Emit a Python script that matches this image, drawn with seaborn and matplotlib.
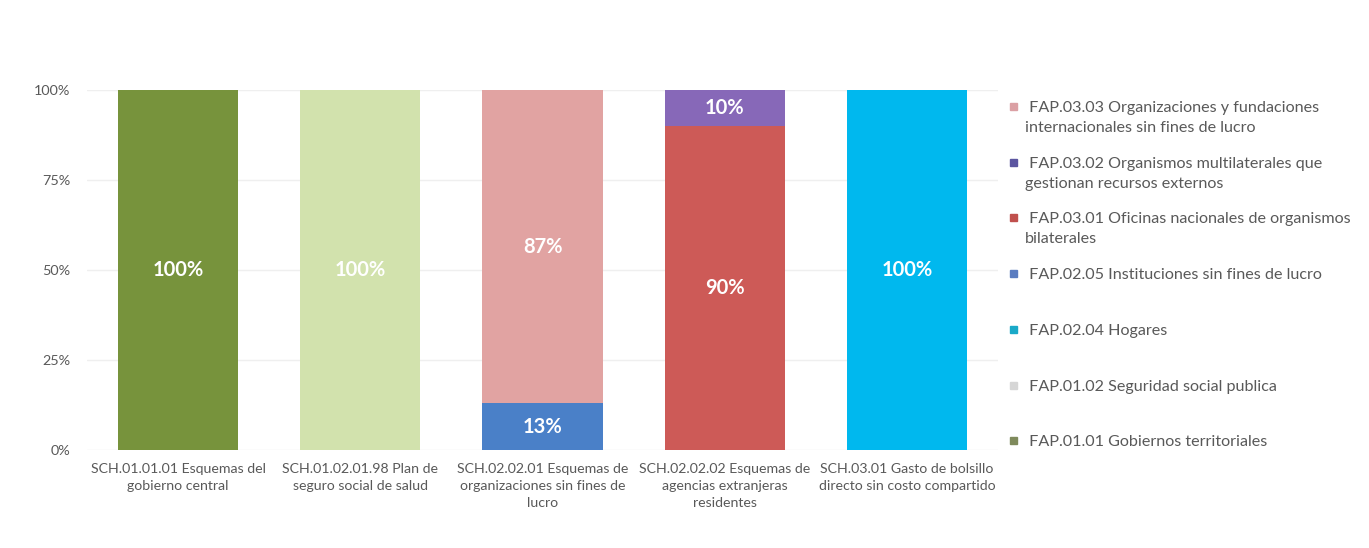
import matplotlib
matplotlib.use("Agg")
import matplotlib.pyplot as plt
import seaborn as sns
import pandas as pd
from matplotlib.patches import Rectangle

sns.set_theme(style="white")
plt.rcParams["font.family"] = ["Lato", "DejaVu Sans"]

# Financing schemes (x categories)
schemes = [
    "SCH.01.01.01 Esquemas del\ngobierno central",
    "SCH.01.02.01.98 Plan de\nseguro social de salud",
    "SCH.02.02.01 Esquemas de\norganizaciones sin fines de\nlucro",
    "SCH.02.02.02 Esquemas de\nagencias extranjeras\nresidentes",
    "SCH.03.01 Gasto de bolsillo\ndirecto sin costo compartido",
]

# Financing agents, stacked bottom -> top (percent of each scheme)
agents = [
    "FAP.01.01 Gobiernos territoriales",
    "FAP.01.02 Seguridad social publica",
    "FAP.02.04 Hogares",
    "FAP.02.05 Instituciones sin fines de lucro",
    "FAP.03.01 Oficinas nacionales de organismos\nbilaterales",
    "FAP.03.02 Organismos multilaterales que\ngestionan recursos externos",
    "FAP.03.03 Organizaciones y fundaciones\ninternacionales sin fines de lucro",
]
fap_01_01 = [100, 0, 0, 0, 0]
fap_01_02 = [0, 100, 0, 0, 0]
fap_02_04 = [0, 0, 0, 0, 100]
fap_02_05 = [0, 0, 13, 0, 0]
fap_03_01 = [0, 0, 0, 90, 0]
fap_03_02 = [0, 0, 0, 10, 0]
fap_03_03 = [0, 0, 87, 0, 0]
series = [fap_01_01, fap_01_02, fap_02_04, fap_02_05, fap_03_01, fap_03_02, fap_03_03]

colors = ["#77933c", "#d2e2ad", "#00b8ee", "#4a80c8", "#cd5a57", "#8768b8", "#e1a3a2"]
legend_colors = ["#7f8a5c", "#d6d6d6", "#1aa9c8", "#5a7cc0", "#c0504d", "#5b55a0", "#dba0a4"]

yticks = [0, 25, 50, 75, 100]
ytick_labels = ["0%", "25%", "50%", "75%", "100%"]

W, H = 1369, 548
fig = plt.figure(figsize=(W / 100, H / 100), dpi=100)
fig.patch.set_facecolor("white")
ax = fig.add_axes([87 / W, 1 - 450 / H, (998 - 87) / W, 360 / H])

df = pd.DataFrame({"scheme": schemes})
bottom = [0] * len(schemes)
for name, vals, col in zip(agents, series, colors):
    df["value"] = vals
    sns.barplot(data=df, x="scheme", y="value", bottom=bottom, color=col,
                width=0.66, saturation=1, linewidth=0, ax=ax, zorder=3)
    for i, v in enumerate(vals):
        if v > 0:
            ax.text(i, bottom[i] + v / 2, f"{v}%", ha="center", va="center",
                    color="white", fontsize=14.5, fontweight="bold", zorder=4)
    bottom = [b + v for b, v in zip(bottom, vals)]

ax.set_xlim(-0.5, len(schemes) - 0.5)
ax.set_ylim(0, 100)
ax.set_yticks(yticks)
ax.set_yticklabels(ytick_labels)
ax.set_xlabel("")
ax.set_ylabel("")
ax.tick_params(axis="y", length=0, pad=12, labelsize=10.4, labelcolor="#595959")
ax.tick_params(axis="x", length=0, pad=9.5, labelsize=10.2, labelcolor="#595959")
for lbl in ax.get_xticklabels():
    lbl.set_linespacing(1.5)
ax.yaxis.grid(True, color="#efefef", linewidth=1, zorder=0)
ax.set_axisbelow(True)
for s in ax.spines.values():
    s.set_visible(False)

# Legend, top entry = top of stack
for k, (name, col) in enumerate(zip(agents[::-1], legend_colors[::-1])):
    yc = 106 + k * 55.7
    fig.patches.append(Rectangle((1010 / W, 1 - (yc + 4) / H), 7 / W, 7 / H,
                                 transform=fig.transFigure, color=col))
    first, *rest = name.split("\n")
    label = " " + first + ("\n" + "\n".join(rest) if rest else "")
    fig.text(1025 / W, 1 - (yc - 5) / H, label, ha="left", va="top",
             fontsize=11.6, color="#595959", linespacing=1.55)

fig.savefig("out.png", dpi=100, facecolor="white")
